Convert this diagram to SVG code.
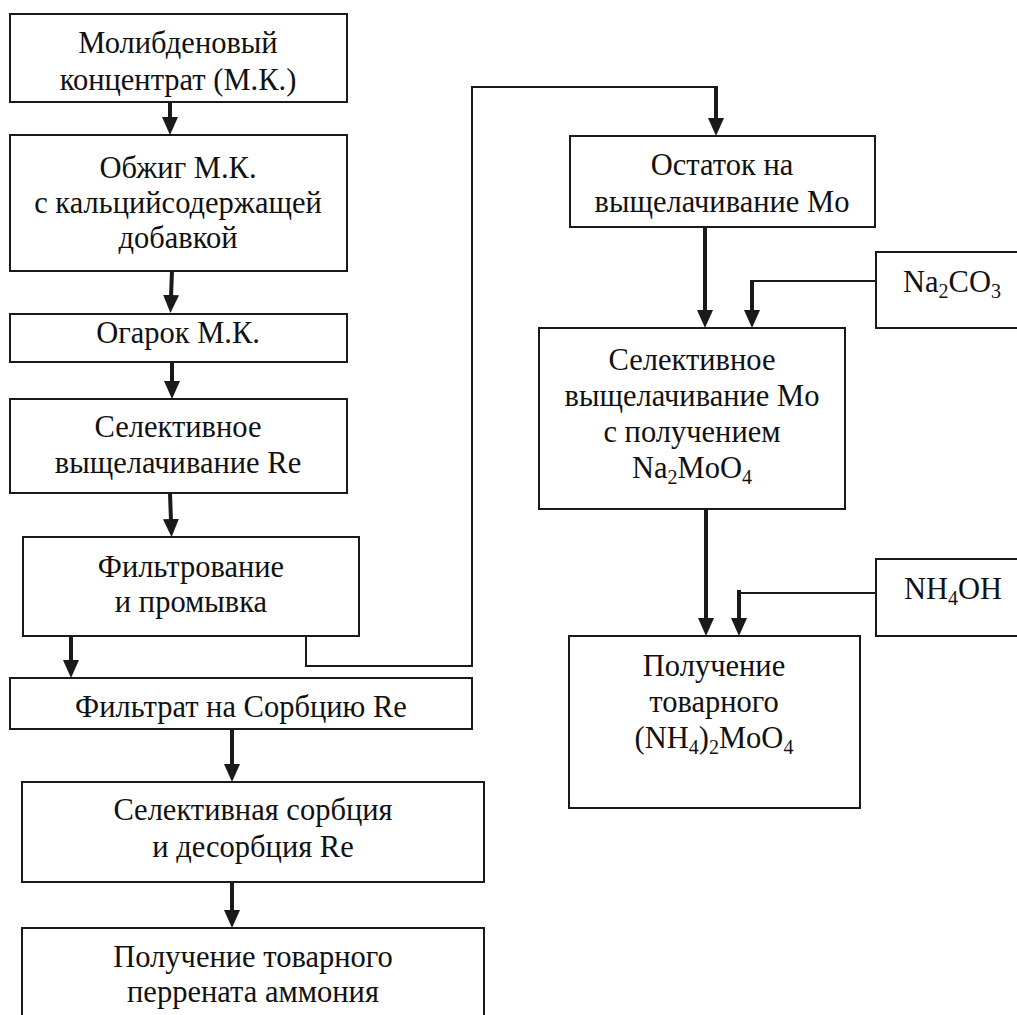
<svg xmlns="http://www.w3.org/2000/svg" width="1017" height="1015" viewBox="0 0 1017 1015">
<style>
.box{fill:#fff;stroke:#1a1a1a;stroke-width:2}
.t{font-size:30.5px;fill:#111;text-anchor:middle}
.s{font-size:20px}
.thick{stroke:#1a1a1a;stroke-width:4;fill:none}
.thin{stroke:#1a1a1a;stroke-width:2;fill:none}
.arr{marker-end:url(#ah)}
</style>
<defs>
<marker id="ah" markerUnits="userSpaceOnUse" markerWidth="20" markerHeight="20" viewBox="0 -10 20 20" refX="2" refY="0" orient="auto">
<path d="M0,-8 L18,0 L0,8 Z" fill="#1a1a1a"/>
</marker>
</defs>
<rect width="1017" height="1015" fill="#fff"/>

<g id="connectors">
<line class="thick arr" x1="170" y1="102" x2="170" y2="119"/>
<line class="thick arr" x1="172" y1="271" x2="171" y2="297"/>
<line class="thick arr" x1="172" y1="362" x2="172" y2="383"/>
<line class="thick arr" x1="170" y1="493" x2="171" y2="521"/>
<line class="thick arr" x1="71" y1="636" x2="71" y2="662"/>
<line class="thick arr" x1="232" y1="729" x2="232" y2="766"/>
<line class="thick arr" x1="232" y1="882" x2="232" y2="912"/>
<polyline class="thin" points="306,636 306,666 472,666 472,87 716,87"/>
<line class="thick arr" x1="716" y1="86" x2="716" y2="120"/>
<line class="thick arr" x1="705" y1="227" x2="705" y2="312"/>
<polyline class="thin" points="876,281 752,281"/>
<line class="thick arr" x1="752" y1="280" x2="752" y2="312"/>
<line class="thick arr" x1="706" y1="509" x2="706" y2="620"/>
<polyline class="thin" points="876,593 739,593"/>
<line class="thick arr" x1="739" y1="590" x2="739" y2="620"/>
</g>

<g font-family="'Liberation Serif', 'DejaVu Serif', serif">
<g id="n1"><rect class="box" x="10" y="14" width="337" height="88"/>
<text class="t" x="178" y="53">Молибденовый</text><text class="t" x="178" y="90">концентрат (М.К.)</text></g>

<g id="n2"><rect class="box" x="10" y="135" width="337" height="136"/>
<text class="t" x="178" y="178">Обжиг М.К.</text><text class="t" x="178" y="213">с кальцийсодержащей</text><text class="t" x="178" y="248">добавкой</text></g>

<g id="n3"><rect class="box" x="10" y="314" width="337" height="48"/>
<text class="t" x="178" y="343">Огарок М.К.</text></g>

<g id="n4"><rect class="box" x="10" y="399" width="337" height="94"/>
<text class="t" x="178" y="437">Селективное</text><text class="t" x="178" y="473">выщелачивание Re</text></g>

<g id="n5"><rect class="box" x="23" y="537" width="336" height="99"/>
<text class="t" x="191" y="577">Фильтрование</text><text class="t" x="191" y="612">и промывка</text></g>

<g id="n6"><rect class="box" x="10" y="678" width="462" height="51"/>
<text class="t" x="241" y="717">Фильтрат на Сорбцию Re</text></g>

<g id="n7"><rect class="box" x="22" y="782" width="462" height="100"/>
<text class="t" x="253" y="820">Селективная сорбция</text><text class="t" x="253" y="857">и десорбция Re</text></g>

<g id="n8"><rect class="box" x="22" y="928" width="462" height="100"/>
<text class="t" x="253" y="967">Получение товарного</text><text class="t" x="253" y="1002">перрената аммония</text></g>

<g id="r1"><rect class="box" x="570" y="136" width="305" height="91"/>
<text class="t" x="722" y="175">Остаток на</text><text class="t" x="722" y="212">выщелачивание Mo</text></g>

<g id="na2co3"><rect class="box" x="876" y="252" width="160" height="76"/>
<text class="t" x="952" y="292">Na<tspan class="s" dy="6">2</tspan><tspan dy="-6">CO</tspan><tspan class="s" dy="6">3</tspan></text></g>

<g id="r2"><rect class="box" x="539" y="328" width="306" height="181"/>
<text class="t" x="692" y="370">Селективное</text><text class="t" x="692" y="406">выщелачивание Mo</text><text class="t" x="692" y="442">с получением</text>
<text class="t" x="692" y="478">Na<tspan class="s" dy="6">2</tspan><tspan dy="-6">MoO</tspan><tspan class="s" dy="6">4</tspan></text></g>

<g id="nh4oh"><rect class="box" x="876" y="559" width="160" height="77"/>
<text class="t" x="953" y="599">NH<tspan class="s" dy="6">4</tspan><tspan dy="-6">OH</tspan></text></g>

<g id="r3"><rect class="box" x="569" y="636" width="291" height="172"/>
<text class="t" x="714" y="676">Получение</text><text class="t" x="714" y="712">товарного</text>
<text class="t" x="714" y="748">(NH<tspan class="s" dy="6">4</tspan><tspan dy="-6">)</tspan><tspan class="s" dy="6">2</tspan><tspan dy="-6">MoO</tspan><tspan class="s" dy="6">4</tspan></text></g>
</g>
</svg>
